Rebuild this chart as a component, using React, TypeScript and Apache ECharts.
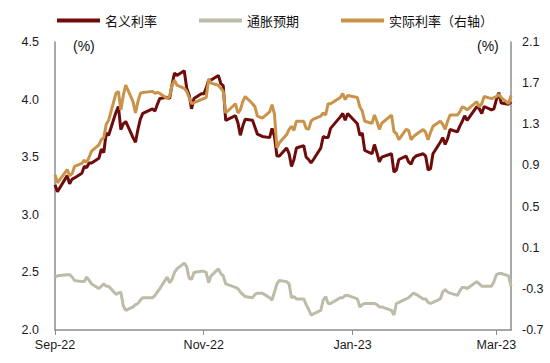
import React, { useEffect, useRef } from "react";
import * as echarts from "echarts";

const sepDays = [1, 2, 6, 7, 8, 9, 12, 13, 14, 15, 16, 19, 20, 21, 22, 23, 26, 27, 28, 29, 30];
const octDays = [3, 4, 5, 6, 7, 11, 12, 13, 14, 17, 18, 19, 20, 21, 24, 25, 26, 27, 28, 31];
const novDays = [1, 2, 3, 4, 7, 8, 9, 10, 14, 15, 16, 17, 18, 21, 22, 23, 25, 28, 29, 30];
const decDays = [1, 2, 5, 6, 7, 8, 9, 12, 13, 14, 15, 16, 19, 20, 21, 22, 23, 27, 28, 29, 30];
const janDays = [3, 4, 5, 6, 9, 10, 11, 12, 13, 17, 18, 19, 20, 23, 24, 25, 26, 27, 30, 31];
const febDays = [1, 2, 3, 6, 7, 8, 9, 10, 13, 14, 15, 16, 17, 21, 22, 23, 24, 27, 28];
const marDays = [1, 2, 3, 6, 7];

const monthBlocks: [string, number[]][] = [
  ["2022-09", sepDays],
  ["2022-10", octDays],
  ["2022-11", novDays],
  ["2022-12", decDays],
  ["2023-01", janDays],
  ["2023-02", febDays],
  ["2023-03", marDays],
];

// 名义利率 (left axis)
const nominal = [
  3.26, 3.2, 3.34, 3.27, 3.31, 3.32, 3.36, 3.42, 3.41, 3.45, 3.45, 3.49, 3.57, 3.54, 3.71, 3.69, 3.89, 3.94, 3.74, 3.79, 3.81,
  3.67, 3.63, 3.74, 3.83, 3.88, 3.92, 3.9, 3.96, 4.01, 4.02, 4.01, 4.13, 4.23, 4.21, 4.25, 4.1, 4.04, 3.92, 4.01, 4.05,
  4.05, 4.1, 4.17, 4.17, 4.21, 4.14, 4.12, 3.82, 3.86, 3.8, 3.69, 3.77, 3.83, 3.82, 3.76, 3.7, 3.68, 3.67, 3.75, 3.68,
  3.51, 3.51, 3.58, 3.53, 3.42, 3.48, 3.58, 3.6, 3.5, 3.48, 3.45, 3.48, 3.58, 3.68, 3.67, 3.67, 3.75, 3.85, 3.88, 3.82, 3.88,
  3.79, 3.69, 3.71, 3.56, 3.53, 3.61, 3.54, 3.46, 3.5, 3.53, 3.37, 3.39, 3.48, 3.51, 3.46, 3.44, 3.49, 3.51, 3.53, 3.51,
  3.39, 3.4, 3.53, 3.63, 3.67, 3.61, 3.66, 3.74, 3.72, 3.77, 3.81, 3.86, 3.82, 3.94, 3.92, 3.88, 3.94, 3.91, 3.92,
  4.0, 4.06, 3.97, 3.96, 3.98,
];

// 通胀预期 (left axis)
const inflation = [
  2.46, 2.47, 2.48, 2.48, 2.46, 2.43, 2.42, 2.42, 2.46, 2.43, 2.4, 2.36, 2.38, 2.4, 2.38, 2.38, 2.31, 2.32, 2.33, 2.21, 2.17,
  2.2, 2.22, 2.23, 2.26, 2.28, 2.28, 2.3, 2.33, 2.36, 2.46, 2.41, 2.44, 2.5, 2.53, 2.58, 2.55, 2.45, 2.44, 2.5, 2.51,
  2.51, 2.5, 2.41, 2.47, 2.53, 2.49, 2.47, 2.4, 2.37, 2.36, 2.33, 2.31, 2.29, 2.28, 2.31, 2.32, 2.32, 2.28, 2.26, 2.33,
  2.4, 2.43, 2.42, 2.4, 2.28, 2.29, 2.27, 2.27, 2.22, 2.18, 2.13, 2.14, 2.17, 2.26, 2.29, 2.23, 2.23, 2.28, 2.28, 2.3, 2.3,
  2.27, 2.2, 2.22, 2.23, 2.23, 2.23, 2.22, 2.2, 2.2, 2.17, 2.13, 2.23, 2.24, 2.27, 2.28, 2.3, 2.32, 2.31, 2.27, 2.27,
  2.24, 2.23, 2.24, 2.27, 2.33, 2.35, 2.33, 2.32, 2.3, 2.34, 2.37, 2.37, 2.36, 2.42, 2.4, 2.38, 2.38, 2.38, 2.42,
  2.48, 2.49, 2.49, 2.47, 2.38,
];

// 实际利率 (right axis)
const real = [
  0.81, 0.73, 0.86, 0.8, 0.82, 0.89, 0.92, 0.95, 0.93, 0.98, 1.04, 1.1, 1.15, 1.17, 1.3, 1.34, 1.6, 1.62, 1.44, 1.58, 1.68,
  1.52, 1.41, 1.52, 1.6, 1.61, 1.62, 1.6, 1.61, 1.6, 1.55, 1.57, 1.68, 1.73, 1.68, 1.65, 1.62, 1.56, 1.5, 1.51, 1.54,
  1.55, 1.56, 1.74, 1.7, 1.68, 1.65, 1.62, 1.41, 1.5, 1.41, 1.44, 1.52, 1.57, 1.5, 1.47, 1.38, 1.36, 1.42, 1.49, 1.4,
  1.07, 1.12, 1.2, 1.25, 1.28, 1.24, 1.33, 1.33, 1.26, 1.25, 1.33, 1.35, 1.38, 1.41, 1.39, 1.5, 1.5, 1.56, 1.6, 1.54, 1.58,
  1.56, 1.47, 1.43, 1.33, 1.31, 1.39, 1.33, 1.25, 1.31, 1.39, 1.23, 1.21, 1.15, 1.25, 1.24, 1.15, 1.18, 1.2, 1.25, 1.22,
  1.15, 1.22, 1.28, 1.33, 1.3, 1.25, 1.33, 1.39, 1.39, 1.42, 1.47, 1.46, 1.44, 1.52, 1.47, 1.5, 1.57, 1.55, 1.56,
  1.57, 1.59, 1.56, 1.5, 1.58,
];

const xTickDates = ["2022-09-01", "2022-11-01", "2023-01-01", "2023-03-01"];
const xTickLabels = ["Sep-22", "Nov-22", "Jan-23", "Mar-23"];
const leftTicks = [2.0, 2.5, 3.0, 3.5, 4.0, 4.5];
const rightTicks = [-0.7, -0.3, 0.1, 0.5, 0.9, 1.3, 1.7, 2.1];

const seriesNames = ["名义利率", "通胀预期", "实际利率（右轴）"];
const colors = ["#6E0B0B", "#BEBBA8", "#C99349"];

const pad = (n: number) => (n < 10 ? "0" + n : "" + n);
const dates: string[] = [];
monthBlocks.forEach(([ym, days]) => days.forEach((d) => dates.push(ym + "-" + pad(d))));

const ts = (s: string) => {
  const [y, m, d] = s.split("-").map(Number);
  return Date.UTC(y, m - 1, d);
};

export default function App() {
  const ref = useRef<HTMLDivElement>(null);
  useEffect(() => {
    document.body.style.margin = "0";
    if (!ref.current) return;
    const chart = echarts.init(ref.current, undefined, { renderer: "svg" });
    const tickTs = xTickDates.map(ts);
    const axisFont = { fontFamily: "Liberation Sans, Arial, sans-serif", fontSize: 12.5, color: "#1a1a1a" };
    const mk = (arr: number[]) => dates.map((d, i) => [ts(d), arr[i]]);
    chart.setOption({
      animation: false,
      legend: {
        top: 9,
        left: "center",
        itemWidth: 43,
        itemHeight: 4,
        itemGap: 42,
        icon: "rect",
        textStyle: { fontFamily: "Noto Sans CJK SC", fontSize: 13, color: "#111" },
        data: seriesNames,
      },
      grid: { left: 55, right: 39, top: 42, bottom: 33, containLabel: false },
      xAxis: {
        type: "value",
        min: ts("2022-09-01"),
        max: ts("2023-03-07"),
        axisLine: { onZero: false, lineStyle: { color: "#8c8c8c", width: 1.5 } },
        axisTick: { show: true, length: 5, customValues: tickTs, lineStyle: { color: "#8c8c8c" } },
        splitLine: { show: false },
        axisLabel: {
          ...axisFont,
          margin: 8,
          customValues: tickTs,
          formatter: (v: number) => {
            const i = tickTs.indexOf(v);
            return i >= 0 ? xTickLabels[i] : "";
          },
        },
      },
      yAxis: [
        {
          type: "value",
          min: 2.0,
          max: 4.5,
          interval: 0.5,
          axisLine: { show: true, onZero: false, lineStyle: { color: "#8c8c8c", width: 1.5 } },
          axisTick: { show: false },
          splitLine: { show: false },
          axisLabel: { ...axisFont, margin: 16, showMinLabel: true, showMaxLabel: true, customValues: leftTicks, formatter: (v: number) => v.toFixed(1) },
        },
        {
          type: "value",
          min: -0.7,
          max: 2.1,
          axisLine: { show: true, onZero: false, lineStyle: { color: "#8c8c8c", width: 1.5 } },
          axisTick: { show: false },
          splitLine: { show: false },
          axisLabel: { ...axisFont, margin: 11, showMinLabel: true, showMaxLabel: true, hideOverlap: false, customValues: rightTicks, formatter: (v: number) => v.toFixed(1) },
        },
      ],
      graphic: [
        { type: "text", left: 73, top: 39, style: { text: "(%)", fontFamily: "Liberation Sans, Arial", fontSize: 14, fill: "#111" } },
        { type: "text", left: 477, top: 39, style: { text: "(%)", fontFamily: "Liberation Sans, Arial", fontSize: 14, fill: "#111" } },
      ],
      series: [
        { name: seriesNames[0], type: "line", yAxisIndex: 0, data: mk(nominal), showSymbol: false, lineStyle: { width: 3, color: colors[0] }, itemStyle: { color: colors[0] } },
        { name: seriesNames[1], type: "line", yAxisIndex: 0, data: mk(inflation), showSymbol: false, lineStyle: { width: 3, color: colors[1] }, itemStyle: { color: colors[1] } },
        { name: seriesNames[2], type: "line", yAxisIndex: 1, data: mk(real), showSymbol: false, lineStyle: { width: 3, color: colors[2] }, itemStyle: { color: colors[2] } },
      ],
    });
    return () => chart.dispose();
  }, []);
  return <div ref={ref} style={{ width: 550, height: 363 }} />;
}
